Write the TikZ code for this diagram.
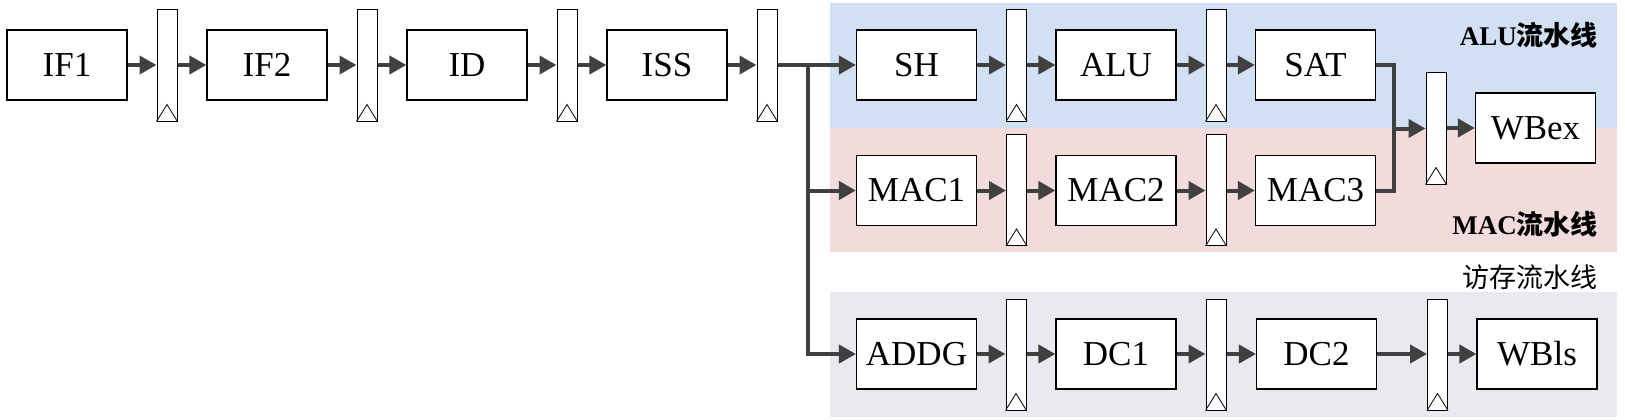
\documentclass[tikz,border=0pt]{standalone}
\usepackage{fontspec}
\setmainfont{Liberation Serif}
\newfontfamily\cjk{Noto Sans CJK SC}
\usetikzlibrary{arrows.meta,calc}
\definecolor{arrgray}{HTML}{404040}
\definecolor{bgblue}{HTML}{D1E0F2}
\definecolor{bgpink}{HTML}{F2DCDB}
\definecolor{bggray}{HTML}{EBE8F0}
\begin{document}
\begin{tikzpicture}[x=1pt,y=-1pt,
  stagebox/.style={draw=black,line width=1.2pt,fill=white,minimum width=120pt,minimum height=70pt,inner sep=0pt,font=\fontsize{35}{40}\selectfont},
  regbox/.style={draw=black,line width=1pt,fill=white,minimum width=20pt,minimum height=111pt,inner sep=0pt},
  arr/.style={draw=arrgray,line width=4pt,-{Triangle[length=17pt,width=18pt]}},
  wire/.style={draw=arrgray,line width=4pt},
  lbl/.style={anchor=east,inner sep=0pt,font=\fontsize{27}{30}\selectfont}
]
\useasboundingbox (0,0) rectangle (1625,420);
% backgrounds
\fill[bgblue] (830,3) rectangle (1617,128);
\fill[bgpink] (830,128) rectangle (1617,252);
\fill[bggray] (830,292) rectangle (1617,417);
% labels
\node[lbl] (lalu) at (1598,35) {\textbf{ALU}{\cjk\bfseries 流水线}};
\node[lbl] (lmac) at (1598,224) {\textbf{MAC}{\cjk\bfseries 流水线}};
\node[lbl] (lmem) at (1598,277) {{\cjk 访存流水线}};
% row 1
\node[stagebox] (IF1) at (67,65) {IF1};
\node[regbox] (r1) at (167,65.5) {};
\node[stagebox] (IF2) at (267,65) {IF2};
\node[regbox] (r2) at (367,65.5) {};
\node[stagebox] (ID) at (467,65) {ID};
\node[regbox] (r3) at (567,65.5) {};
\node[stagebox] (ISS) at (667,65) {ISS};
\node[regbox] (r4) at (767,65.5) {};
\node[stagebox] (SH) at (916.5,65) {SH};
\node[regbox] (r5) at (1016.5,65.5) {};
\node[stagebox] (ALU) at (1116,65) {ALU};
\node[regbox] (r6) at (1216,65.5) {};
\node[stagebox] (SAT) at (1315.5,65) {SAT};
% row 2
\node[stagebox] (MAC1) at (916.5,190.5) {MAC1};
\node[regbox] (m1) at (1016.5,190) {};
\node[stagebox] (MAC2) at (1116,190.5) {MAC2};
\node[regbox] (m2) at (1216,190) {};
\node[stagebox] (MAC3) at (1315.5,190.5) {MAC3};
% write back ex
\node[regbox] (wr) at (1436,128.5) {};
\node[stagebox] (WBex) at (1535.5,128) {WBex};
% row 3
\node[stagebox] (ADDG) at (916.5,354) {ADDG};
\node[regbox] (d1) at (1016,354.5) {};
\node[stagebox] (DC1) at (1116,354) {DC1};
\node[regbox] (d2) at (1216,354.5) {};
\node[stagebox] (DC2) at (1316.5,354) {DC2};
\node[regbox] (d3) at (1437.5,354.5) {};
\node[stagebox] (WBls) at (1537,354) {WBls};
% clock triangles
\foreach \r in {r1,r2,r3,r4,r5,r6,m1,m2,wr,d1,d2,d3}{
  \draw[black,line width=0.8pt] (\r.south west) -- ($(\r.south)+(0,-17)$) -- (\r.south east);
}
% connectors row 1
\draw[arr] (IF1.east) -- (r1.west |- IF1.east);
\draw[arr] (r1.east |- IF1.east) -- (IF2.west);
\draw[arr] (IF2.east) -- (r2.west |- IF2.east);
\draw[arr] (r2.east |- IF2.east) -- (ID.west);
\draw[arr] (ID.east) -- (r3.west |- ID.east);
\draw[arr] (r3.east |- ID.east) -- (ISS.west);
\draw[arr] (ISS.east) -- (r4.west |- ISS.east);
\coordinate (J) at (808,65);
\draw[arr] (r4.east |- ISS.east) -- (SH.west);
\draw[arr] (J) |- (MAC1.west);
\draw[arr] (J) |- (ADDG.west);
\draw[arr] (SH.east) -- (r5.west |- SH.east);
\draw[arr] (r5.east |- SH.east) -- (ALU.west);
\draw[arr] (ALU.east) -- (r6.west |- ALU.east);
\draw[arr] (r6.east |- ALU.east) -- (SAT.west);
% row 2
\draw[arr] (MAC1.east) -- (m1.west |- MAC1.east);
\draw[arr] (m1.east |- MAC1.east) -- (MAC2.west);
\draw[arr] (MAC2.east) -- (m2.west |- MAC2.east);
\draw[arr] (m2.east |- MAC2.east) -- (MAC3.west);
% merge
\coordinate (M) at (1394,128.5);
\draw[wire] (SAT.east) -| (M);
\draw[wire] (MAC3.east) -| (M);
\draw[arr] (M) -- (wr.west);
\draw[arr] (wr.east |- WBex.west) -- (WBex.west);
% row 3
\draw[arr] (ADDG.east) -- (d1.west |- ADDG.east);
\draw[arr] (d1.east |- ADDG.east) -- (DC1.west);
\draw[arr] (DC1.east) -- (d2.west |- DC1.east);
\draw[arr] (d2.east |- DC1.east) -- (DC2.west);
\draw[arr] (DC2.east) -- (d3.west |- DC2.east);
\draw[arr] (d3.east |- DC2.east) -- (WBls.west);
\end{tikzpicture}
\end{document}
